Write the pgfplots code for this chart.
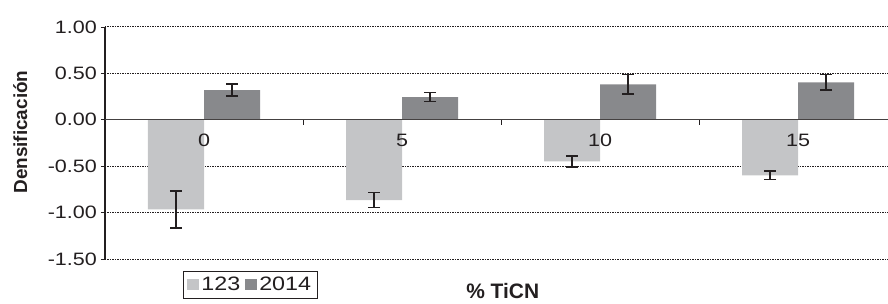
\documentclass[border=0pt]{standalone}
\usepackage{fontspec}
\setmainfont{Liberation Sans}
\newfontfamily\widefont[FakeStretch=1.2]{Liberation Sans}
\usepackage{pgfplots}
\pgfplotsset{compat=1.18}
\definecolor{lightbar}{RGB}{196,197,199}
\definecolor{darkbar}{RGB}{136,137,140}
\definecolor{ink}{RGB}{35,31,32}
\pgfplotsset{base/.style={
  at={(0,0)}, anchor=south west,
  scale only axis, width=783bp, height=232bp,
  xmin=-0.5, xmax=3.454, ymin=-1.5, ymax=1.0,
  tick label style={font=\widefont\fontsize{18}{20}\selectfont, text=ink},
}}
\begin{document}
\begin{tikzpicture}
\path[use as bounding box] (-105bp,-45bp) rectangle (783bp,259bp);
\begin{axis}[
  base,
  axis x line*=middle, axis y line*=left,
  xtick={0,1,2,3}, xticklabels={},
  minor xtick={0.5,1.5,2.5},
  xtick align=outside, ytick align=outside,
  xtick style={draw=none},
  minor x tick style={draw=ink, line width=0.8bp},
  minor tick length=5bp,
  major tick length=4bp,
  ytick={-1.5,-1,-0.5,0,0.5,1},
  yticklabels={-1.50,-1.00,-0.50,0.00,0.50,1.00},
  ytick style={draw=ink, line width=0.8bp},
  ymajorgrids,
  grid style={dash pattern=on 1.3bp off 1.2bp, ink, line width=1bp},
  x axis line style={draw=ink!85, line width=1.2bp},
  y axis line style={draw=ink, line width=1.4bp},
  yticklabel style={anchor=east, inner sep=0pt, xshift=-4bp},
  ylabel={Densificación},
  ylabel style={at={(rel axis cs:-0.1175,0.547)}, anchor=north, rotate=0, inner sep=0pt, font=\bfseries\fontsize{19}{21}\selectfont, text=ink},
  xlabel={\% TiCN},
  xlabel style={at={(rel axis cs:0.508,0)}, anchor=north, inner sep=0pt, yshift=-24bp, font=\bfseries\fontsize{21}{23}\selectfont, text=ink},
  legend style={at={(rel axis cs:0.0996,0)}, anchor=north west, yshift=-12bp,
    legend columns=-1, draw=ink, line width=0.8bp, inner sep=4bp,
    font=\widefont\fontsize{19.5}{21}\selectfont, text=ink,
    /tikz/every even column/.append style={column sep=3bp}},
  legend image code/.code={\fill[#1] (0bp,-5.5bp) rectangle (12bp,5.5bp);},
]
\addplot[ybar, bar width=0.283, bar shift=0, fill=lightbar, draw=none,
  error bars/.cd, y dir=both, y explicit,
  error bar style={ink, line width=1.6bp},
  error mark options={ink, line width=1.6bp, mark size=6bp, rotate=90}]
  coordinates {
  (-0.1415,-0.965) +- (0,0.20)
  (0.8585,-0.865) +- (0,0.08)
  (1.8585,-0.447) +- (0,0.06)
  (2.8585,-0.598) +- (0,0.045)
  };
\addlegendentry{123}
\addplot[ybar, bar width=0.283, bar shift=0, fill=darkbar, draw=none,
  error bars/.cd, y dir=both, y explicit,
  error bar style={ink, line width=1.6bp},
  error mark options={ink, line width=1.6bp, mark size=6bp, rotate=90}]
  coordinates {
  (0.1415,0.32) +- (0,0.065)
  (1.1415,0.245) +- (0,0.048)
  (2.1415,0.383) +- (0,0.104)
  (3.1415,0.403) +- (0,0.083)
  };
\addlegendentry{2014}
\end{axis}
\begin{axis}[
  base,
  axis x line*=middle, hide y axis,
  x axis line style={draw=ink!85, line width=1.2bp},
  xtick={0,1,2,3}, xticklabels={0,5,10,15},
  xtick style={draw=none},
  xticklabel style={anchor=north, inner sep=0pt, yshift=-14bp},
]
\end{axis}
\end{tikzpicture}
\end{document}
